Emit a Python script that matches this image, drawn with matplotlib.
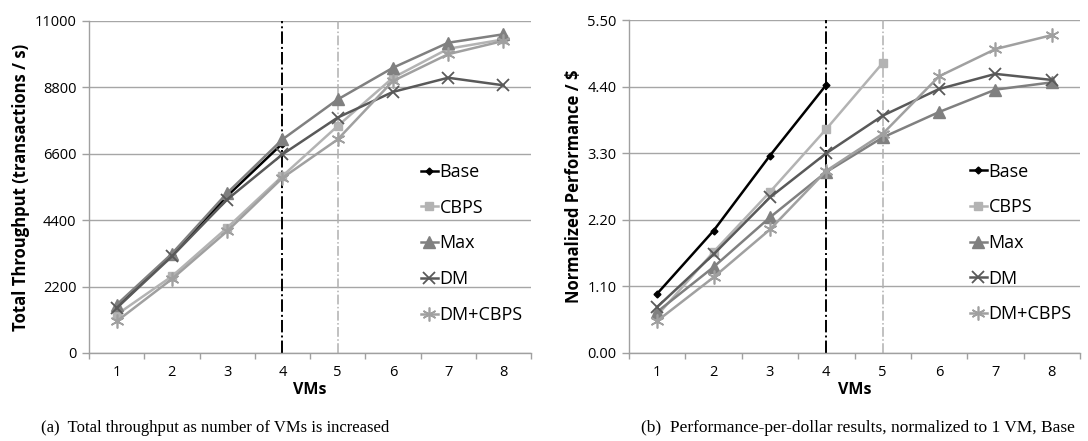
import matplotlib.pyplot as plt
from matplotlib.ticker import FixedLocator

FONT = 'Open Sans'

vms = [1, 2, 3, 4, 5, 6, 7, 8]

# throughput (transactions / s)
tp_base = [1500, 3260, 5200, 6940]
tp_cbps = [1270, 2540, 4150, 5860, 7520, 9120, 10080, 10390]
tp_max = [1600, 3290, 5300, 7075, 8400, 9450, 10280, 10560]
tp_dm = [1490, 3200, 5085, 6580, 7800, 8650, 9120, 8870]
tp_dmcbps = [1050, 2450, 4035, 5800, 7075, 9010, 9900, 10340]

# normalized performance per dollar
pd_base = [0.98, 2.02, 3.26, 4.43]
pd_cbps = [0.62, 1.67, 2.66, 3.70, 4.79]
pd_max = [0.68, 1.42, 2.24, 2.99, 3.56, 3.98, 4.35, 4.47]
pd_dm = [0.76, 1.63, 2.57, 3.30, 3.92, 4.36, 4.61, 4.51]
pd_dmcbps = [0.53, 1.25, 2.04, 3.01, 3.62, 4.57, 5.02, 5.25]

tp_ticks = [0, 2200, 4400, 6600, 8800, 11000]
pd_ticks = [0.0, 1.1, 2.2, 3.3, 4.4, 5.5]

# стили серий
styles = {
    'Base': dict(color='black', marker='D', markersize=3.5),
    'CBPS': dict(color='#b3b3b3', marker='s', markersize=5.5),
    'Max': dict(color='#808080', marker='^', markersize=9),
    'DM': dict(color='#595959', marker='x', markersize=8, markeredgewidth=1.3),
    'DM+CBPS': dict(color='#a0a0a0', marker=(6, 2, 0), markersize=10, markeredgewidth=1.2),
}

fig = plt.figure(figsize=(10.88, 4.41), dpi=100, facecolor='white')
ax1 = fig.add_axes([89 / 1088, 88 / 441, 442 / 1088, 332 / 441])
ax2 = fig.add_axes([629 / 1088, 88 / 441, 451 / 1088, 333 / 441])


def draw(ax, series, ticks, fmt, ylabel, leg_x):
    for name, vals in series:
        ax.plot(vms[:len(vals)], vals, lw=1.8, label=name, zorder=3, **styles[name])
    ax.axvline(4, color='black', lw=1.4, ls='-.', zorder=2)
    ax.axvline(5, color='#b0b0b0', lw=1.1, ls='-.', zorder=2)

    ax.set_xlim(0.5, 8.5)
    ax.set_ylim(ticks[0], ticks[-1])
    ax.set_yticks(ticks)
    ax.set_yticklabels([fmt(t) for t in ticks], fontname=FONT, fontsize=10.5)
    ax.set_xticks(vms)
    ax.set_xticklabels([str(v) for v in vms], fontname=FONT, fontsize=10.5)
    ax.xaxis.set_minor_locator(FixedLocator([v + 0.5 for v in range(0, 9)]))
    ax.tick_params(axis='x', which='major', length=0, pad=9)
    ax.tick_params(axis='x', which='minor', length=4, color='#a0a0a0', width=1)
    ax.tick_params(axis='y', length=5, color='#a0a0a0', width=1, pad=4)
    ax.grid(axis='y', color='#a6a6a6', lw=1, zorder=0)
    for s in ['top', 'right']:
        ax.spines[s].set_visible(False)
    for s in ['left', 'bottom']:
        ax.spines[s].set_color('#a0a0a0')
        ax.spines[s].set_linewidth(1)

    ax.set_xlabel('VMs', fontname=FONT, fontsize=11.5, fontweight='bold', labelpad=1)
    ax.set_ylabel(ylabel, fontname=FONT, fontsize=12, fontweight='bold', labelpad=3)

    ax.legend(loc='upper left', bbox_to_anchor=(leg_x, 0.572), frameon=False,
              prop={'family': FONT, 'size': 13}, handlelength=0.95,
              handletextpad=0.1, labelspacing=0.98, borderpad=0, borderaxespad=0)


draw(ax1,
     [('Base', tp_base), ('CBPS', tp_cbps), ('Max', tp_max), ('DM', tp_dm), ('DM+CBPS', tp_dmcbps)],
     tp_ticks, lambda t: f'{t:d}', 'Total Throughput (transactions / s)', 0.75)
draw(ax2,
     [('Base', pd_base), ('CBPS', pd_cbps), ('Max', pd_max), ('DM', pd_dm), ('DM+CBPS', pd_dmcbps)],
     pd_ticks, lambda t: f'{t:.2f}', 'Normalized Performance / $', 0.755)

fig.text(215 / 1088, 1 - 428 / 441, '(a)  Total throughput as number of VMs is increased',
         ha='center', va='center', fontname='Liberation Serif', fontsize=12)
fig.text(858 / 1088, 1 - 428 / 441, '(b)  Performance-per-dollar results, normalized to 1 VM, Base',
         ha='center', va='center', fontname='Liberation Serif', fontsize=12.5)

fig.savefig('out.png', dpi=100, facecolor='white')
